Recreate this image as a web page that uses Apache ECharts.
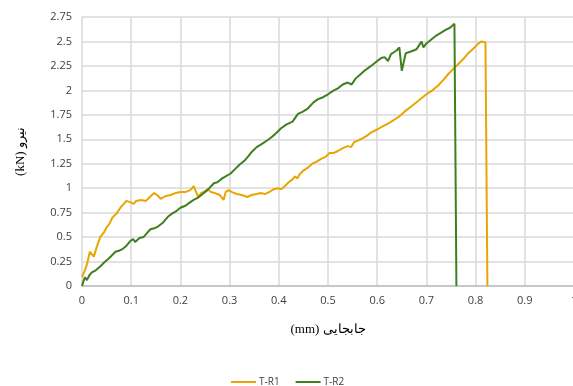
<!DOCTYPE html>
<html>
<head>
<meta charset="utf-8">
<script src="https://cdn.jsdelivr.net/npm/echarts@6/dist/echarts.min.js"></script>
<style>
html,body{margin:0;padding:0;background:#fff;}
#c{width:573px;height:386px;}
</style>
</head>
<body>
<div id="c"></div>
<script>
const seriesNames = ['T-R1', 'T-R2'];
const xTicks = [0, 0.1, 0.2, 0.3, 0.4, 0.5, 0.6, 0.7, 0.8, 0.9, 1];
const yTicks = [0, 0.25, 0.5, 0.75, 1, 1.25, 1.5, 1.75, 2, 2.25, 2.5, 2.75];

const r1X = [0.000,0.005,0.010,0.016,0.020,0.024,0.030,0.037,0.045,0.050,0.055,0.062,0.070,0.078,0.085,0.090,0.097,0.105,0.110,0.120,0.130,0.140,0.147,0.155,0.160,0.170,0.180,0.190,0.200,0.210,0.220,0.227,0.232,0.236,0.242,0.250,0.256,0.262,0.270,0.280,0.288,0.292,0.298,0.305,0.315,0.325,0.336,0.345,0.355,0.363,0.372,0.380,0.390,0.398,0.405,0.412,0.420,0.428,0.433,0.438,0.442,0.450,0.459,0.468,0.476,0.486,0.495,0.503,0.512,0.520,0.530,0.540,0.547,0.553,0.562,0.570,0.580,0.588,0.600,0.610,0.622,0.632,0.644,0.655,0.665,0.678,0.690,0.700,0.712,0.724,0.735,0.745,0.757,0.765,0.775,0.785,0.792,0.800,0.806,0.812,0.820,0.824,0.824];
const r1Y = [0.09,0.15,0.22,0.35,0.33,0.30,0.40,0.50,0.55,0.60,0.63,0.70,0.74,0.80,0.84,0.87,0.86,0.84,0.87,0.88,0.87,0.92,0.95,0.92,0.89,0.92,0.93,0.95,0.96,0.96,0.98,1.02,0.96,0.91,0.95,0.97,0.99,0.96,0.95,0.93,0.88,0.96,0.98,0.96,0.94,0.93,0.91,0.93,0.94,0.95,0.94,0.96,0.99,1.00,0.99,1.02,1.06,1.09,1.12,1.10,1.14,1.18,1.21,1.25,1.27,1.30,1.32,1.36,1.36,1.38,1.41,1.43,1.42,1.47,1.49,1.51,1.54,1.57,1.60,1.63,1.66,1.69,1.73,1.78,1.82,1.87,1.92,1.96,2.00,2.05,2.11,2.17,2.23,2.27,2.32,2.38,2.41,2.45,2.48,2.50,2.49,2.49,0];

const r2X = [0.000,0.003,0.006,0.010,0.015,0.020,0.028,0.037,0.045,0.052,0.060,0.068,0.075,0.083,0.090,0.098,0.104,0.108,0.112,0.117,0.125,0.132,0.139,0.147,0.155,0.165,0.175,0.183,0.190,0.200,0.210,0.218,0.227,0.235,0.245,0.255,0.268,0.275,0.285,0.302,0.310,0.320,0.330,0.337,0.345,0.355,0.365,0.377,0.385,0.392,0.398,0.404,0.415,0.428,0.439,0.448,0.458,0.471,0.480,0.490,0.500,0.512,0.520,0.530,0.540,0.548,0.556,0.565,0.574,0.582,0.590,0.600,0.608,0.615,0.622,0.628,0.634,0.640,0.645,0.650,0.653,0.658,0.662,0.670,0.680,0.685,0.690,0.694,0.700,0.710,0.720,0.730,0.740,0.748,0.752,0.757,0.761,0.761];
const r2Y = [0.00,0.05,0.09,0.06,0.11,0.14,0.16,0.20,0.24,0.27,0.31,0.35,0.36,0.38,0.41,0.46,0.48,0.45,0.43,0.49,0.50,0.54,0.58,0.59,0.61,0.65,0.71,0.74,0.76,0.80,0.82,0.85,0.88,0.90,0.94,0.98,1.05,1.06,1.10,1.15,1.19,1.24,1.28,1.32,1.37,1.42,1.45,1.49,1.52,1.55,1.58,1.61,1.65,1.68,1.76,1.78,1.81,1.88,1.91,1.93,1.96,2.00,2.02,2.06,2.08,2.06,2.12,2.16,2.20,2.23,2.26,2.30,2.33,2.34,2.30,2.37,2.39,2.41,2.44,2.20,2.22,2.38,2.39,2.40,2.42,2.46,2.50,2.44,2.48,2.52,2.56,2.59,2.62,2.64,2.65,2.68,2.67,0];

const colors = ['#E8A600', '#3F7F1F'];
const zip = (xs, ys) => xs.map((x, i) => [x, ys[i]]);

const chart = echarts.init(document.getElementById('c'), null, {renderer: 'canvas'});
const tickFont = {fontFamily: 'Open Sans, Liberation Sans, sans-serif', fontSize: 11, color: '#404040'};
chart.setOption({
  animation: false,
  backgroundColor: '#fff',
  color: colors,
  grid: {left: 82, right: -1, top: 17, bottom: 100, containLabel: false, outerBoundsMode: 'none'},
  legend: {
    data: seriesNames,
    top: 372,
    left: 226,
    itemWidth: 25,
    itemHeight: 2,
    itemGap: 16,
    icon: 'rect',
    textStyle: {fontFamily: 'Open Sans, Liberation Sans, sans-serif', fontSize: 10, color: '#404040', padding: [0, 0, 0, -2]}
  },
  xAxis: {
    type: 'value',
    min: xTicks[0],
    max: xTicks[xTicks.length - 1],
    interval: 0.1,
    name: '(mm) جابجایی',
    nameLocation: 'middle',
    nameGap: 37,
    nameTextStyle: {fontFamily: 'Liberation Serif, DejaVu Serif, serif', fontSize: 13, color: '#000'},
    axisLine: {show: true, lineStyle: {color: '#bfbfbf', width: 1.5}},
    axisTick: {show: false},
    splitLine: {show: true, lineStyle: {color: '#d9d9d9', width: 1.5}},
    axisLabel: Object.assign({margin: 9, formatter: v => String(Math.round(v * 10) / 10), showMaxLabel: true}, tickFont)
  },
  yAxis: {
    type: 'value',
    min: yTicks[0],
    max: yTicks[yTicks.length - 1],
    interval: 0.25,
    name: '(kN) نیرو',
    nameLocation: 'middle',
    nameRotate: 90,
    nameGap: 55,
    nameTextStyle: {fontFamily: 'Liberation Serif, DejaVu Serif, serif', fontSize: 13, color: '#000'},
    axisLine: {show: false},
    axisTick: {show: false},
    splitLine: {show: true, lineStyle: {color: '#d9d9d9', width: 1.5}},
    axisLabel: Object.assign({margin: 10, formatter: v => String(v)}, tickFont)
  },
  series: [
    {name: seriesNames[0], type: 'line', data: zip(r1X, r1Y), symbol: 'none', lineStyle: {width: 2, color: colors[0]}, itemStyle: {color: colors[0]}, z: 3},
    {name: seriesNames[1], type: 'line', data: zip(r2X, r2Y), symbol: 'none', lineStyle: {width: 2, color: colors[1]}, itemStyle: {color: colors[1]}, z: 4}
  ]
});
</script>
</body>
</html>
